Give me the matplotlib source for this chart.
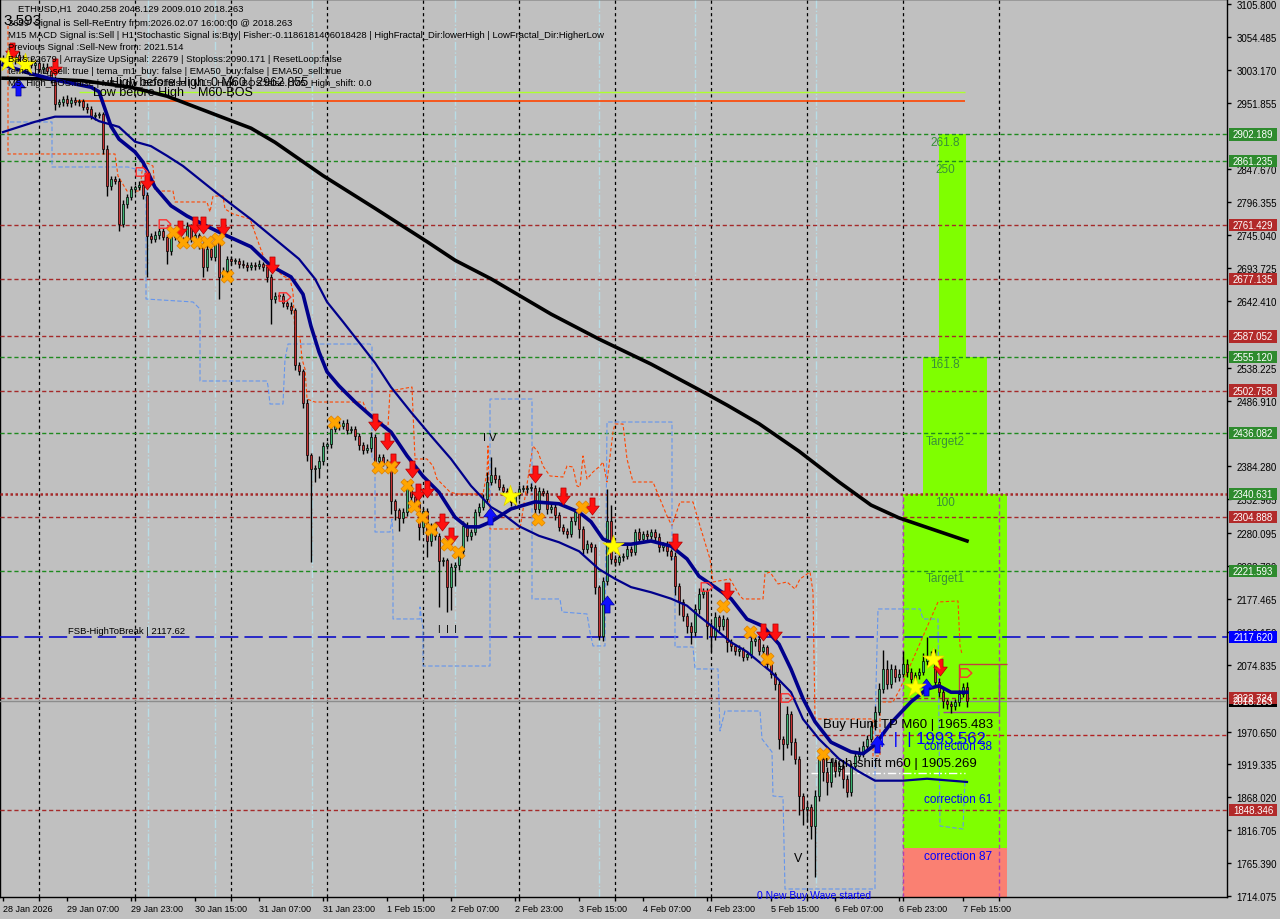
import numpy as np
import matplotlib.pyplot as plt
from matplotlib.path import Path
from matplotlib.patches import Rectangle
import matplotlib.transforms as mtransforms

plt.rcParams['font.family'] = ['Liberation Sans', 'DejaVu Sans']

# ETHUSD H1, bar 0 = 28 Jan 15:00, one bar per hour
first_open = 3016.0
closes = [
    3020, 3023, 3017, 3026, 3020, 3014, 3017, 3011, 3014, 3004,
    3007, 3001, 2989, 2950, 2953, 2958, 2951, 2956, 2953, 2954,
    2945, 2942, 2931, 2933, 2934, 2880, 2822, 2833, 2830, 2763,
    2794, 2805, 2817, 2820, 2823, 2808, 2744, 2739, 2745, 2752,
    2742, 2720, 2742, 2745, 2736, 2739, 2759, 2739, 2745, 2731,
    2695, 2723, 2711, 2736, 2680, 2689, 2708, 2705, 2705, 2700,
    2699, 2695, 2699, 2697, 2700, 2695, 2680, 2645, 2650, 2650,
    2639, 2635, 2628, 2543, 2533, 2483, 2402, 2380, 2382, 2393,
    2416, 2419, 2443, 2449, 2447, 2452, 2441, 2443, 2432, 2418,
    2410, 2413, 2430, 2393, 2399, 2390, 2387, 2330, 2316, 2304,
    2313, 2352, 2337, 2326, 2290, 2315, 2268, 2291, 2276, 2237,
    2238, 2196, 2227, 2231, 2252, 2291, 2276, 2282, 2313, 2321,
    2333, 2360, 2371, 2365, 2352, 2346, 2338, 2329, 2340, 2349,
    2349, 2351, 2351, 2318, 2346, 2343, 2318, 2321, 2309, 2290,
    2284, 2279, 2299, 2313, 2287, 2255, 2263, 2259, 2196, 2120,
    2206, 2299, 2240, 2235, 2243, 2245, 2255, 2251, 2282, 2271,
    2279, 2276, 2282, 2274, 2259, 2263, 2252, 2245, 2198, 2173,
    2151, 2135, 2126, 2162, 2185, 2190, 2135, 2120, 2149, 2135,
    2146, 2110, 2104, 2096, 2099, 2087, 2092, 2112, 2115, 2096,
    2102, 2076, 2060, 2045, 1959, 1951, 1998, 1954, 1928, 1870,
    1850, 1853, 1823, 1870, 1928, 1908, 1892, 1923, 1909, 1917,
    1897, 1876, 1917, 1932, 1936, 1948, 1959, 1979, 2001, 2037,
    2068, 2045, 2068, 2056, 2060, 2076, 2064, 2053, 2059, 2064,
    2081, 2089, 2084, 2048, 2032, 2018, 2014, 2010, 2016, 2030,
    2040.258, 2018.263]
up_wick = [
    6, 6, 6, 6, 6, 6, 6, 6, 6, 6,
    6, 6, 8, 4, 5, 4, 6, 4, 5, 4,
    4, 6, 4, 5, 4, 4, 6, 5, 4, 4,
    6, 4, 5, 4, 6, 4, 4, 5, 6, 4,
    5, 4, 6, 4, 5, 4, 6, 4, 5, 4,
    4, 6, 4, 5, 4, 6, 4, 5, 4, 4,
    6, 4, 5, 4, 6, 4, 4, 5, 6, 4,
    5, 4, 6, 4, 5, 4, 6, 4, 5, 8,
    6, 4, 8, 5, 6, 4, 6, 4, 5, 4,
    4, 6, 8, 5, 4, 4, 6, 5, 4, 4,
    6, 10, 5, 4, 6, 4, 4, 5, 6, 4,
    5, 4, 6, 4, 5, 8, 6, 4, 5, 6,
    8, 15, 28, 12, 6, 5, 4, 6, 5, 6,
    6, 5, 8, 4, 6, 5, 4, 6, 5, 4,
    5, 4, 6, 5, 4, 5, 6, 4, 5, 4,
    6, 50, 25, 6, 5, 4, 6, 5, 4, 6,
    5, 6, 5, 4, 6, 4, 5, 4, 6, 4,
    5, 4, 6, 8, 10, 5, 4, 6, 8, 4,
    6, 4, 5, 4, 6, 4, 5, 6, 4, 5,
    6, 4, 5, 4, 6, 5, 12, 4, 6, 4,
    5, 8, 4, 10, 6, 5, 8, 6, 5, 6,
    8, 6, 5, 8, 10, 8, 6, 8, 10, 10,
    30, 15, 8, 6, 8, 20, 8, 6, 5, 6,
    12, 29, 8, 15, 6, 5, 4, 5, 6, 6,
    6, 7.9]
dn_wick = [
    6, 5, 6, 5, 6, 5, 6, 5, 6, 5,
    6, 5, 6, 10, 5, 6, 5, 6, 5, 6,
    5, 6, 5, 6, 5, 8, 15, 6, 5, 12,
    5, 6, 5, 6, 5, 6, 64, 6, 5, 6,
    5, 20, 6, 5, 6, 5, 6, 5, 6, 8,
    15, 6, 5, 6, 35, 6, 5, 6, 5, 6,
    5, 6, 5, 6, 5, 6, 8, 38, 6, 5,
    6, 5, 6, 8, 6, 8, 10, 145, 20, 15,
    6, 5, 6, 5, 6, 5, 6, 5, 6, 8,
    6, 5, 6, 15, 6, 5, 8, 20, 15, 20,
    8, 6, 8, 6, 20, 8, 25, 8, 6, 72,
    8, 39, 35, 30, 8, 6, 8, 6, 5, 6,
    5, 6, 5, 6, 5, 6, 5, 6, 5, 6,
    5, 6, 5, 12, 6, 5, 8, 6, 8, 6,
    5, 6, 5, 6, 15, 8, 6, 8, 10, 6,
    8, 6, 8, 6, 5, 6, 5, 6, 5, 6,
    5, 6, 5, 6, 8, 6, 8, 6, 15, 20,
    8, 10, 18, 6, 8, 6, 20, 25, 6, 8,
    6, 15, 8, 6, 8, 6, 5, 6, 8, 6,
    5, 8, 6, 10, 15, 25, 6, 20, 8, 30,
    25, 20, 20, 79, 8, 15, 20, 8, 10, 8,
    15, 8, 6, 5, 6, 5, 6, 5, 6, 5,
    6, 8, 6, 8, 6, 5, 8, 6, 8, 6,
    5, 6, 5, 6, 8, 10, 8, 10, 6, 6,
    6, 9.3]

x_tick_bars = [0, 16, 32, 48, 64, 80, 96, 112, 128, 144, 160, 176, 192, 208, 224, 240]
x_tick_labels = ['28 Jan 2026', '29 Jan 07:00', '29 Jan 23:00', '30 Jan 15:00', '31 Jan 07:00',
                 '31 Jan 23:00', '1 Feb 15:00', '2 Feb 07:00', '2 Feb 23:00', '3 Feb 15:00',
                 '4 Feb 07:00', '4 Feb 23:00', '5 Feb 15:00', '6 Feb 07:00', '6 Feb 23:00',
                 '7 Feb 15:00']
midnight_bars = [9, 33, 57, 81, 105, 129, 153, 177, 201, 225, 249]
y_ticks = [3105.800, 3054.485, 3003.170, 2951.855, 2847.670, 2796.355, 2745.040,
           2693.725, 2642.410, 2538.225, 2486.910, 2384.280, 2332.965,
           2280.095, 2228.780, 2177.465, 2126.150, 2074.835, 1970.650, 1919.335,
           1868.020, 1816.705, 1765.390, 1714.075]

# moving averages
slow_ma_bars = [0, 10, 20, 32, 41, 54, 62, 68, 80, 93, 106, 113, 122, 137, 149, 162, 174, 181,
                189, 199, 209, 217, 224, 232, 241]
slow_ma = [2990, 2989, 2986, 2976, 2962, 2931, 2912, 2890, 2838, 2787, 2735, 2706, 2677, 2622,
           2583, 2544, 2504, 2480, 2451, 2408, 2360, 2324, 2304, 2287, 2268]
fast_ma_bars = [0, 7, 14, 22, 24, 27, 29, 33, 35, 38, 42, 46, 51, 56, 62, 67, 72, 75, 77, 79,
                81, 84, 88, 92, 97, 101, 105, 109, 113, 116, 119, 122, 127, 133, 139, 144, 147,
                150, 153, 157, 162, 167, 171, 174, 178, 182, 186, 190, 194, 197, 200, 203, 207,
                212, 215, 218, 222, 227, 231, 234, 237, 241]
fast_ma = [3011, 2997, 2986, 2976, 2969, 2915, 2895, 2875, 2859, 2820, 2791, 2775, 2759, 2744,
           2727, 2697, 2680, 2653, 2603, 2563, 2532, 2510, 2485, 2463, 2438, 2401, 2369, 2344,
           2305, 2290, 2290, 2298, 2318, 2329, 2326, 2313, 2298, 2271, 2263, 2263, 2268, 2260,
           2240, 2213, 2196, 2178, 2146, 2135, 2107, 2068, 2022, 1986, 1954, 1939, 1936, 1950,
           1984, 2017, 2037, 2042, 2032, 2032]
mid_ma_bars = [0, 8, 13, 22, 24, 29, 33, 37, 41, 45, 49, 53, 58, 62, 68, 74, 78, 81, 85, 89, 93,
               97, 102, 107, 112, 117, 122, 125, 129, 134, 139, 144, 149, 153, 157, 162, 167,
               171, 174, 178, 182, 186, 192, 197, 200, 204, 209, 214, 218, 225, 231, 237, 241]
mid_ma = [2906, 2922, 2930, 2930, 2923, 2914, 2891, 2884, 2869, 2853, 2833, 2813, 2789, 2770,
          2739, 2708, 2677, 2641, 2610, 2578, 2546, 2508, 2469, 2432, 2396, 2354, 2321, 2310,
          2291, 2276, 2266, 2252, 2224, 2209, 2196, 2188, 2178, 2167, 2151, 2131, 2110, 2095,
          2064, 2032, 1990, 1959, 1928, 1908, 1894, 1894, 1897, 1894, 1892]

# stepped envelopes (orange = upper, light blue = lower)
upper_env_bars = [1.25, 1.25, 24.25, 28, 28.75, 31, 34.25, 35, 37.5, 38, 42.5, 43, 51, 51.75,
                  52.5, 55, 55.5,
                  57.5, 61.75, 65.5, 67.5, 70, 71.75, 72.5, 73, 74.25, 74.75, 75.5, 76, 78, 90,
                  91, 94.25, 96.25, 96.75, 102.25, 102.5, 103, 106, 107.5, 108.5, 111.75, 113.5,
                  120, 121, 121.25, 121.75, 129.25, 132.5, 133.75, 135, 136.75, 140, 141, 142.5,
                  143.5, 144.25, 145, 146, 147.5, 149.25, 150, 151, 152.5, 153, 155, 156, 157.5,
                  162.5, 164.25, 166, 167.25, 169.25, 172.5, 174.25, 176.75, 177.5, 181.75,
                  184.25, 185, 190, 190.5, 191.75, 193.75, 196, 198, 199.25, 201.75, 202.5, 203,
                  217.5, 217.5, 219.25, 219.25, 222.5, 224.25, 233.75, 238.75, 239.25, 239.75]
upper_env = [3072.0, 2871.8, 2871.8, 2871.8, 2837.4, 2814.0, 2814.0, 2860.8, 2853.0, 2814.0,
             2814.0, 2796.9,
             2796.9, 2781.3, 2806.2, 2806.2, 2786.0, 2778.2, 2770.4, 2704.8, 2697.0, 2681.4,
             2676.7, 2656.5, 2587.8, 2586.3, 2551.9, 2536.3, 2489.5, 2484.8, 2484.8, 2469.2,
             2447.4, 2447.4, 2502.0, 2508.2, 2469.2, 2395.9, 2395.9, 2385.0, 2364.7, 2344.4,
             2341.3, 2341.3, 2375.6, 2416.2, 2286.7, 2286.7, 2416.2, 2406.8, 2385.0, 2369.4,
             2367.8, 2385.0, 2383.4, 2353.8, 2352.2, 2400.6, 2364.7, 2375.6, 2385.0, 2391.2,
             2360.0, 2438.0, 2450.5, 2450.5, 2395.9, 2360.0, 2360.0, 2333.5, 2307.0, 2291.4,
             2328.8, 2328.8, 2291.4, 2239.9, 2204.0, 2208.7, 2182.2, 2177.5, 2177.5, 2216.5,
             2219.6, 2200.9, 2204.0, 2193.1, 2208.7, 2219.6, 2188.4, 1990.3, 1990.3, 1932.5,
             1932.5, 2016.8, 2016.8, 2037.1, 2172.8, 2174.4, 2104.2, 2091.7]
lower_env_bars = [1.75, 12.25, 12.25, 31.25, 35.75, 35.75, 47.5, 49.25, 49.25, 66, 66.25, 66.75,
                  70, 70.5, 71.25, 91.75, 92.25, 92.25, 93, 93, 96.75, 97.25, 97.5, 97.5, 104.25,
                  104.25, 105, 105, 121.75, 121.75, 132.25, 132.25, 139.25, 139.75, 146, 146.75,
                  147.5, 150.5, 151, 167.25, 167.25, 168, 168, 172.5, 173, 178.75, 179.25, 180.5,
                  189.25, 189.75, 192.25, 192.5, 195, 195.5, 218, 218, 218.75, 229.25, 230,
                  233.75, 234.25, 240, 240.5]
lower_env = [2921.7, 2921.7, 2851.5, 2851.5, 2843.7, 2645.5, 2640.9, 2629.9, 2517.6, 2517.6,
             2509.8, 2481.7, 2481.7, 2551.9, 2575.3, 2575.3, 2572.2, 2395.9, 2395.9, 2282.0,
             2282.0, 2302.3, 2275.8, 2146.3, 2146.3, 2165.0, 2130.7, 2072.9, 2072.9, 2489.5,
             2489.5, 2177.5, 2177.5, 2157.2, 2154.1, 2126.0, 2104.2, 2104.2, 2453.6, 2453.6,
             2239.9, 2239.9, 2102.6, 2102.6, 2068.3, 2068.3, 1971.5, 2002.7, 2002.7, 1959.1,
             1938.8, 1870.1, 1868.6, 1725.0, 1725.0, 1979.3, 2161.9, 2161.9, 2146.3, 2146.3,
             1823.3, 1818.6, 1896.6]
session_bars = [36.25, 53, 77.25, 113, 149, 173, 203.25]

# horizontal levels and their axis tags
green_levels = [2902.189, 2861.235, 2555.120, 2436.082, 2221.593]
red_levels = [2761.429, 2677.135, 2587.052, 2502.758, 2304.888, 2022.724, 1848.346]
tag_prices = [2902.189, 2861.235, 2761.429, 2677.135, 2587.052, 2555.120, 2502.758, 2436.082,
              2340.631, 2304.888, 2221.593, 2117.620, 2018.263, 2022.724, 1848.346]
tag_colors = ['g', 'g', 'r', 'r', 'r', 'g', 'r', 'g', 'g', 'r', 'g', 'b', 'k', 'r', 'r']
fsb_level = 2117.62
bid_price = 2018.263
tp_level = 1965.483
shift_level = 1905.269
break_level = 2340.631

# signal markers (bar, price)
sell_arrows = [(2.25, 3032.5), (13, 3007.5), (36, 2829.6), (44.25, 2754.8), (48, 2761.0),
               (50, 2761.0), (55, 2757.9), (67.25, 2698.6), (93, 2453.6), (96, 2424.0),
               (97.5, 2391.2), (102.25, 2380.3), (103.75, 2344.4), (106, 2349.1),
               (109.75, 2297.6), (112, 2275.8), (133, 2372.5), (140, 2338.2), (147.25, 2322.6),
               (168, 2266.4), (181, 2190.0), (190, 2126.0), (193, 2126.0), (234.25, 2071.4)]
buy_arrows = [(3.75, 2976.3), (121.75, 2307.0), (151, 2169.7), (218.5, 1951.2), (230.75, 2040.2)]
exit_crosses = [(42.5, 2750.1), (45, 2734.5), (48.5, 2734.5), (51, 2734.5), (53.75, 2739.2),
                (56, 2681.4), (82.75, 2453.6), (93.75, 2383.4), (97, 2383.4), (101, 2355.3),
                (102.75, 2322.6), (104.75, 2305.4), (107, 2286.7), (111, 2263.3),
                (113.75, 2250.8), (133.75, 2302.3), (144.75, 2321.0), (180, 2166.5),
                (186.75, 2126.0), (191, 2083.9), (205, 1935.6)]
stars = [(1.25, 3016.9), (5.5, 3012.2), (126.75, 2338.2), (152.5, 2260.2), (228, 2040.2),
         (232.5, 2083.9)]
hollow_arrows = [(34.75, 2845.3), (40.5, 2764.1), (70.5, 2650.2), (176, 2197.8), (196, 2024.6),
                 (240.75, 2063.6)]

# projection boxes: (bar_left, bar_right, price_bottom, price_top)
green_boxes = [(225, 251, 1789.0, 2340.631), (230, 246, 2340.631, 2555.120),
               (234, 240.75, 2555.120, 2902.189)]
red_box = (225, 251, 1700.0, 1789.0)

BG = '#c0c0c0'
fig = plt.figure(figsize=(12.8, 9.2), dpi=100)
fig.patch.set_facecolor(BG)
ax = fig.add_axes([0.0, 22 / 920, 1227 / 1280, 898 / 920])
ax.set_facecolor(BG)
ax.set_xlim(-0.75, 306)
ax.set_ylim(1712.5, 3113.6)
for s in ax.spines.values():
    s.set_color('black')
    s.set_linewidth(1)


def ftext(x, y, s, **kw):
    kw.setdefault('fontsize', 6.8)
    kw.setdefault('color', 'black')
    fig.text(x / 1280, 1 - y / 920, s, va='center', ha='left', **kw)


# grid and session lines
for b in midnight_bars:
    ax.axvline(b, color='black', lw=0.9, ls=(0, (2.5, 2.5)), zorder=1)
for b in session_bars:
    ax.axvline(b, color='#b8dde6', lw=1.0, ls=(0, (6, 1.5, 1, 1.5)), zorder=1)

# projection boxes
for x0, x1, y0, y1 in green_boxes:
    ax.add_patch(Rectangle((x0, y0), x1 - x0, y1 - y0, facecolor='#7fff00', edgecolor='none', zorder=2))
ax.add_patch(Rectangle((red_box[0], red_box[2]), red_box[1] - red_box[0], red_box[3] - red_box[2],
                       facecolor='#fa8072', edgecolor='none', zorder=2))
ax.vlines([225, 249], 1712.5, break_level, color='#b040b0', lw=1, ls=(0, (3, 2)), zorder=3)

# level lines
for lv in green_levels:
    ax.axhline(lv, color='#1f8a1f', lw=1, ls=(0, (3, 2)), zorder=3)
for lv in red_levels:
    ax.axhline(lv, color='#a52a2a', lw=1, ls=(0, (3, 2)), zorder=3)
ax.axhline(break_level, color='#a52a2a', lw=1.8, ls=(0, (1, 1)), zorder=3)
ax.axhline(fsb_level, color='#0000c8', lw=1.1, ls=(0, (12, 4)), zorder=3)
ax.axhline(bid_price, color='#8c8c8c', lw=1, zorder=3)
ax.hlines(tp_level, 202.25, 306, color='#b22222', lw=1, ls=(0, (3, 2)), zorder=3)
ax.hlines(shift_level, 202, 240.5, color='white', lw=1, ls=(0, (6, 2, 1, 2)), zorder=3)
ax.hlines(2954.5, 18.5, 240.5, color='#ff4500', lw=1.2, zorder=3)
ax.hlines(2968.5, 19, 240.5, color='#adff2f', lw=1, zorder=3)
ax.hlines(2076.0, 239, 251, color='#c04040', lw=1, zorder=3)
ax.vlines(239, 2021.0, 2076.0, color='#c04040', lw=1, zorder=3)
ax.hlines(2001.2, 235, 249, color='#a040a0', lw=1, zorder=3)
ax.vlines(249, 2001.2, 2076.0, color='#a040a0', lw=1, zorder=3)

# envelopes
ax.plot(upper_env_bars, upper_env, color='#ff4500', lw=0.8, ls=(0, (3, 2)), zorder=4)
ax.plot(lower_env_bars, lower_env, color='#6495ed', lw=0.8, ls=(0, (4, 2)), zorder=4)

# candles
cl = np.array(closes, dtype=float)
op = np.array([first_open] + closes[:-1], dtype=float)
idx = np.arange(len(cl))
hi = np.maximum(op, cl) + np.array(up_wick)
lo = np.minimum(op, cl) - np.array(dn_wick)
bull = cl >= op
ax.vlines(idx, lo, hi, color='black', lw=1, zorder=5)
body = np.maximum(np.abs(cl - op), 1.2)
ax.bar(idx[bull], body[bull], bottom=op[bull], width=0.72, color='#3cb371',
       edgecolor='black', lw=0.5, zorder=6)
ax.bar(idx[~bull], body[~bull], bottom=cl[~bull], width=0.72, color='#c83232',
       edgecolor='black', lw=0.5, zorder=6)

# moving averages
ax.plot(slow_ma_bars, slow_ma, color='black', lw=2.6, zorder=7, solid_joinstyle='round')
ax.plot(mid_ma_bars, mid_ma, color='#00008b', lw=1.6, zorder=7, solid_joinstyle='round')
ax.plot(fast_ma_bars, fast_ma, color='#00008b', lw=2.6, zorder=7, solid_joinstyle='round')

# markers
down_arrow = Path([(-0.3, 1), (0.3, 1), (0.3, 0.05), (0.8, 0.05), (0, -1), (-0.8, 0.05),
                   (-0.3, 0.05), (-0.3, 1)], closed=True)
up_arrow = Path([(-0.3, -1), (0.3, -1), (0.3, -0.05), (0.8, -0.05), (0, 1), (-0.8, -0.05),
                 (-0.3, -0.05), (-0.3, -1)], closed=True)
pent = Path([(-1, 0.55), (0.25, 0.55), (1, -0.2), (0.25, -0.9), (-1, -0.9), (-1, 0.55)], closed=True)


def pts(lst):
    return [p[0] for p in lst], [p[1] for p in lst]


ax.scatter(*pts(sell_arrows), marker=down_arrow, s=150, facecolor='#ff1010', edgecolor='#b00000',
           lw=0.5, zorder=9)
ax.scatter(*pts(buy_arrows), marker=up_arrow, s=150, facecolor='#1010ff', edgecolor='#0000a0',
           lw=0.5, zorder=9)
ax.scatter(*pts(exit_crosses), marker='X', s=90, facecolor='#ffa500', edgecolor='#e08000',
           lw=0.5, zorder=9)
ax.scatter(*pts(stars), marker='*', s=260, facecolor='#ffff00', edgecolor='#e0d000', lw=0.5, zorder=9)
ax.scatter(*pts(hollow_arrows), marker=pent, s=70, facecolor='none', edgecolor='#ff3030', lw=1,
           zorder=9)

# axes ticks
ax.yaxis.tick_right()
ax.set_yticks(y_ticks)
ax.set_yticklabels(['%.3f' % v for v in y_ticks])
ax.tick_params(axis='y', direction='out', length=3, width=1, pad=4, labelsize=7, colors='black')
ax.set_xticks(x_tick_bars)
ax.set_xticklabels(x_tick_labels)
ax.set_xticks(midnight_bars, minor=True)
ax.tick_params(axis='x', which='both', direction='out', length=3, width=1, pad=2, labelsize=6.5)
for lab in ax.get_xticklabels():
    lab.set_ha('left')

# price tags on the right scale
tag_fc = {'g': '#2e8b2e', 'r': '#b22a2a', 'b': '#0000ff', 'k': '#000000'}
tr = mtransforms.blended_transform_factory(ax.transAxes, ax.transData)
for p, c in zip(tag_prices, tag_colors):
    ax.add_patch(Rectangle((1 + 2 / 1227, p - 9.4), 48 / 1227, 18.8, transform=tr,
                           facecolor=tag_fc[c], edgecolor='none', clip_on=False, zorder=20))
    ax.text(1 + 26 / 1227, p, '%.3f' % p, transform=tr, ha='center', va='center',
            fontsize=7, color='white', zorder=21)

# box labels
box_green = '#3a8f3a'
for t, b, p in [('261.8', 235.5, 2890.5), ('250', 235.5, 2848.4), ('161.8', 235.5, 2544.1),
                ('Target2', 235.5, 2424.0), ('100', 235.5, 2328.8), ('Target1', 235.5, 2210.2)]:
    ax.text(b, p, t, ha='center', va='center', fontsize=8.5, color=box_green, zorder=8)
for t, p in [('correction 38', 1948.1), ('correction 61', 1865.4), ('correction 87', 1776.5)]:
    ax.text(238.75, p, t, ha='center', va='center', fontsize=8.5, color='#0000ff', zorder=8)

# info texts
ftext(18, 9, 'ETHUSD,H1  2040.258 2048.129 2009.010 2018.263')
ftext(8, 23, '3659  Signal is Sell-ReEntry from:2026.02.07 16:00:00 @ 2018.263')
ftext(3, 21, '3.593', fontsize=11)
ftext(8, 36, 'M15 MACD Signal is:Sell | H1 Stochastic Signal is:Buy| Fisher:-0.1186181406018428 | '
             'HighFractal_Dir:lowerHigh | LowFractal_Dir:HigherLow')
ftext(8, 47, 'Previous Signal :Sell-New from: 2021.514')
ftext(8, 59, 'Bars:22679 | ArraySize UpSignal: 22679 | Stoploss:2090.171 | ResetLoop:false')
ftext(8, 71, 'tema_m1_sell: true | tema_m1_buy: false | EMA50_buy:false | EMA50_sell:true')
ftext(8, 83, 'M5_High_BOS:false | M5_Low_BOS:false | M15_High_BOS:false | M5_High_shift: 0.0')
ftext(110, 83, 'High before High: 0 M60 | 2962.855', fontsize=9)
ftext(93, 93, 'Low before High    M60-BOS', fontsize=9)
ftext(68, 632, 'FSB-HighToBreak | 2117.62', fontsize=6.8)
ftext(483, 438, 'I V', fontsize=8)
ftext(438, 630, 'I  I  I', fontsize=7)
ftext(794, 859, 'V', fontsize=9)
ftext(823, 725, 'Buy Hunt TP M60 | 1965.483', fontsize=9.5)
ftext(880, 740, '|  |  | 1993.562', fontsize=12, color='#0000ff')
ftext(825, 764, 'High-shift m60 | 1905.269', fontsize=9.5)
ftext(757, 896, '0 New Buy Wave started', fontsize=7.5, color='#0000ff')

fig.savefig('out.png', dpi=100, facecolor=BG)
